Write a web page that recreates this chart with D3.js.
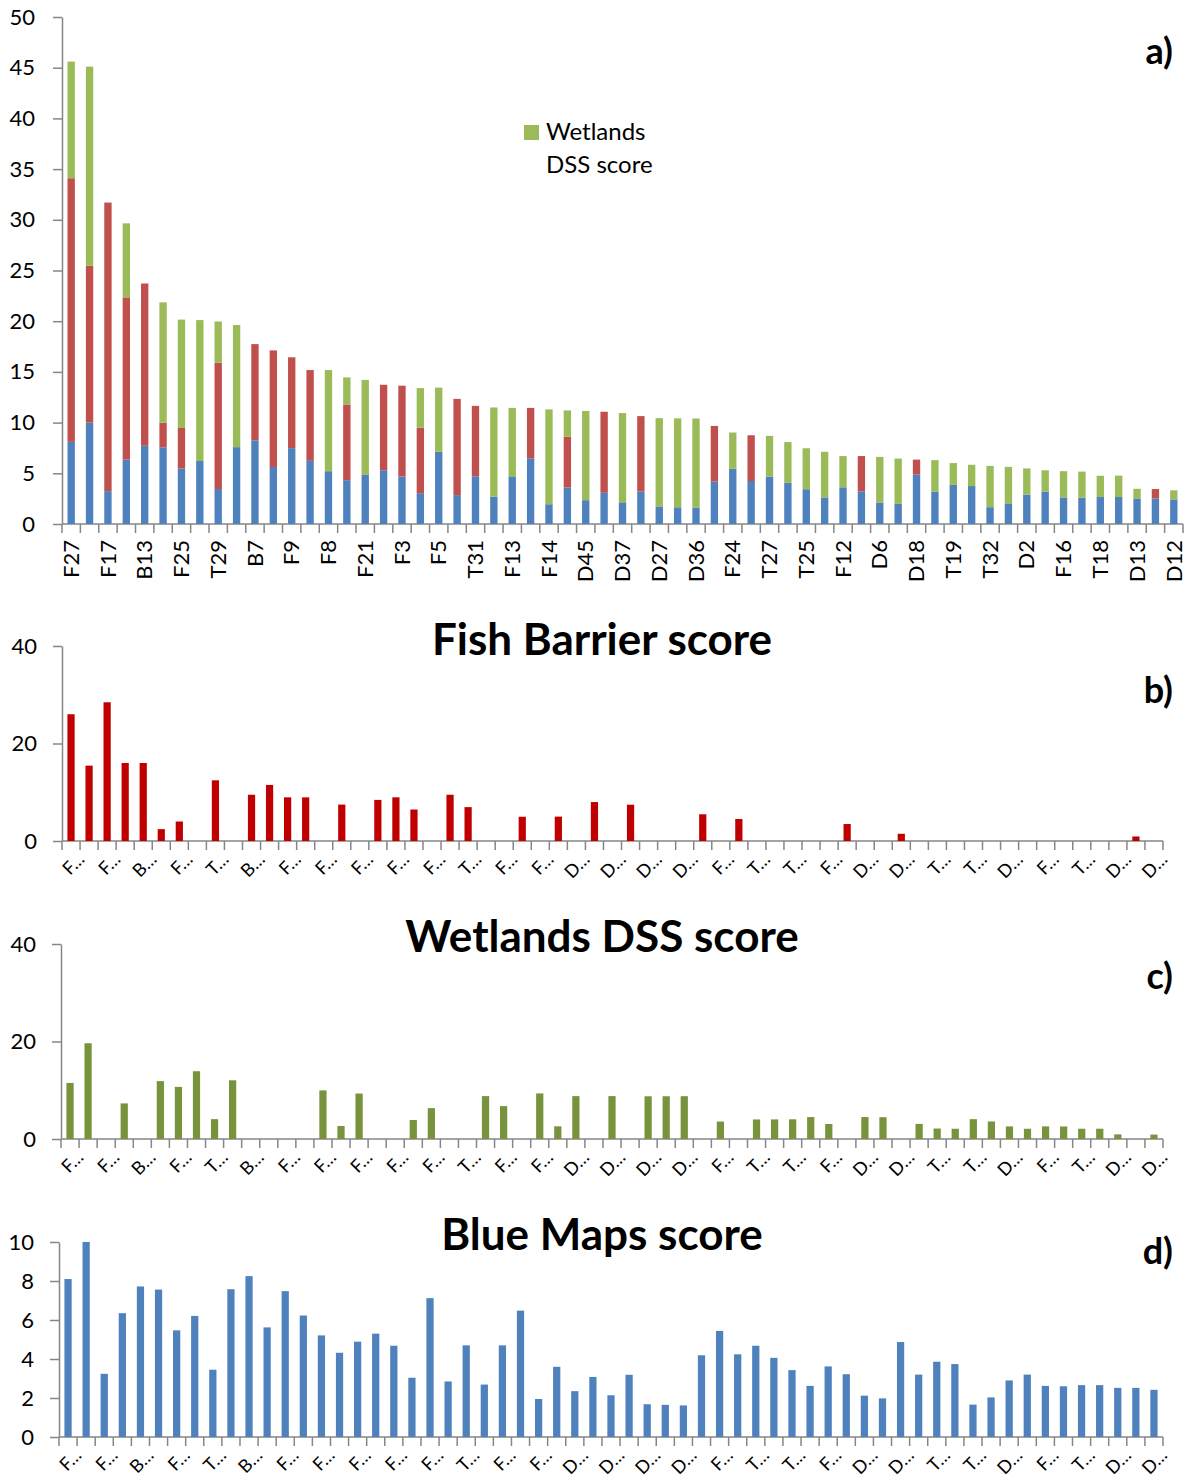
<!DOCTYPE html>
<html>
<head>
<meta charset="utf-8">
<script src="https://cdn.jsdelivr.net/npm/d3@7"></script>
<style>
  body { margin: 0; background: #fff; }
  text { font-family: Lato, "Open Sans", sans-serif; fill: #000; }
</style>
</head>
<body>
<svg id="chart" width="1192" height="1481"></svg>
<script>
// site codes; only every second one is printed in the source, the others stay null
const sites = ["F27",null,"F17",null,"B13",null,"F25",null,"T29",null,"B7",null,"F9",null,"F8",null,
  "F21",null,"F3",null,"F5",null,"T31",null,"F13",null,"F14",null,"D45",null,"D37",null,"D27",null,
  "D36",null,"F24",null,"T27",null,"T25",null,"F12",null,"D6",null,"D18",null,"T19",null,"T32",null,
  "D2",null,"F16",null,"T18",null,"D13",null,"D12"];

const blueMaps = [8.1,10.0,3.24,6.35,7.72,7.56,5.47,6.21,3.45,7.58,8.25,5.62,7.48,6.23,5.21,4.32,
  4.89,5.3,4.68,3.04,7.12,2.85,4.7,2.69,4.7,6.48,1.95,3.6,2.35,3.08,2.14,3.19,1.68,1.65,1.62,4.19,
  5.44,4.24,4.68,4.06,3.43,2.62,3.62,3.22,2.12,1.98,4.87,3.2,3.86,3.74,1.66,2.03,2.9,3.2,2.62,2.6,
  2.66,2.66,2.52,2.52,2.42];

const fishBarrier = [26.0,15.46,28.46,16.0,16.0,2.43,4.0,0,12.45,0,9.49,11.5,8.96,8.95,0,7.47,
  0,8.43,8.96,6.46,0,9.49,6.95,0,0,4.97,0,5.0,0,7.99,0,7.45,0,0,0,5.48,
  0,4.51,0,0,0,0,0,3.48,0,0,1.48,0,0,0,0,0,0,0,0,0,
  0,0,0,0.93,0];

const wetlands = [11.5,19.64,0,7.3,0,11.87,10.69,13.9,4.07,12.04,0,0,0,0,9.97,2.67,
  9.32,0,0,3.9,6.33,0,0,8.8,6.75,0,9.35,2.6,8.8,0,8.8,0,8.76,8.77,8.78,0,
  3.58,0,4.01,4.02,4.04,4.5,3.08,0,4.5,4.47,0,3.1,2.15,2.1,4.07,3.6,2.58,2.1,2.59,2.57,
  2.1,2.11,0.95,0,0.9];

const yTicksA = d3.range(0, 51, 5);
const yTicksB = [0, 20, 40];
const yTicksC = [0, 20, 40];
const yTicksD = [0, 2, 4, 6, 8, 10];

const svg = d3.select("#chart");
const n = sites.length;
const grey = "#868686";

function frame(cfg) {
  const x = d3.scaleBand().domain(d3.range(n))
    .range([cfg.left, cfg.right]).paddingInner(0.6).paddingOuter(0.3);
  const y = d3.scaleLinear().domain([0, cfg.max]).range([cfg.bottom, cfg.top]);
  const g = svg.append("g");

  const yAxis = g.append("g")
    .attr("transform", `translate(${cfg.left},0)`)
    .call(d3.axisLeft(y).tickValues(cfg.ticks).tickSize(9).tickSizeOuter(0).tickPadding(cfg.pad));
  yAxis.select(".domain").attr("stroke", grey).attr("stroke-width", 1.5);
  yAxis.selectAll(".tick line").attr("stroke", grey).attr("stroke-width", 1.5);
  yAxis.selectAll(".tick text").style("font-size", "22px").attr("fill", "#000")
    .attr("font-family", null);

  // category axis: baseline plus a tick at every category boundary
  const step = x.step();
  g.append("line")
    .attr("x1", cfg.left).attr("x2", cfg.right)
    .attr("y1", y(0)).attr("y2", y(0))
    .attr("stroke", grey).attr("stroke-width", 1.5);
  g.selectAll(".xtick").data(d3.range(n + 1)).join("line")
    .attr("x1", i => cfg.left + i * step).attr("x2", i => cfg.left + i * step)
    .attr("y1", y(0)).attr("y2", y(0) + 9)
    .attr("stroke", grey).attr("stroke-width", 1.5);
  return { g, x, y };
}

// ---- a) stacked totals ----
{
  const { g, x, y } = frame({ left: 62, right: 1183, top: 17, bottom: 524, max: 50, ticks: yTicksA, pad: 18 });
  const rows = d3.range(n).map(i => ({ i, blue: blueMaps[i], red: fishBarrier[i], green: wetlands[i] }));
  const stack = d3.stack().keys(["blue", "red", "green"])(rows);
  const colours = { blue: "#4F81BD", red: "#C0504D", green: "#9BBB59" };
  g.selectAll(".layer").data(stack).join("g")
    .attr("fill", s => colours[s.key])
    .selectAll("rect").data(s => s.filter(d => d[1] > d[0])).join("rect")
    .attr("x", d => x(d.data.i))
    .attr("width", x.bandwidth())
    .attr("y", d => y(d[1]))
    .attr("height", d => y(d[0]) - y(d[1]));

  g.selectAll(".xl").data(d3.range(n).filter(i => sites[i])).join("text")
    .attr("text-anchor", "end")
    .attr("dy", "0.35em")
    .style("font-size", "22px")
    .attr("transform", i => `translate(${x(i) + x.bandwidth() / 2},${y(0) + 16}) rotate(-90)`)
    .text(i => sites[i]);

  g.append("rect").attr("x", 524).attr("y", 125).attr("width", 15).attr("height", 15).attr("fill", colours.green);
  g.append("text").attr("x", 546).attr("y", 140).style("font-size", "24px").text("Wetlands");
  g.append("text").attr("x", 546).attr("y", 173).style("font-size", "24px").text("DSS score");

  g.append("text").attr("x", 1173).attr("y", 64).attr("text-anchor", "end")
    .style("font-size", "36px").style("font-weight", "bold").text("a)");
}

// ---- b), c), d) single scores ----
function single(cfg, values, colour, title, letter) {
  const { g, x, y } = frame(cfg);
  g.selectAll(".bar").data(d3.range(n).filter(i => values[i] > 0)).join("rect")
    .attr("fill", colour)
    .attr("x", i => x(i))
    .attr("width", x.bandwidth())
    .attr("y", i => y(values[i]))
    .attr("height", i => y(0) - y(values[i]));

  g.selectAll(".xl").data(d3.range(n).filter(i => sites[i])).join("text")
    .attr("text-anchor", "end")
    .attr("dy", "0.35em")
    .style("font-size", "18px")
    .attr("transform", i => `translate(${x(i) + x.bandwidth() / 2 + 10},${y(0) + 15}) rotate(-45)`)
    .text(i => sites[i][0] + "\u2026");

  g.append("text").attr("x", 602).attr("y", cfg.titleY).attr("text-anchor", "middle")
    .style("font-size", "44px").style("font-weight", "bold").text(title);
  g.append("text").attr("x", 1173).attr("y", cfg.letterY).attr("text-anchor", "end")
    .style("font-size", "36px").style("font-weight", "bold").text(letter);
}

single({ left: 62, right: 1163, top: 646, bottom: 841, max: 40, ticks: yTicksB, pad: 16, titleY: 655, letterY: 703 },
  fishBarrier, "#C00000", "Fish Barrier score", "b)");
single({ left: 61, right: 1163, top: 944, bottom: 1139, max: 40, ticks: yTicksC, pad: 16, titleY: 952, letterY: 989 },
  wetlands, "#77933C", "Wetlands DSS score", "c)");
single({ left: 59, right: 1163, top: 1242, bottom: 1437, max: 10, ticks: yTicksD, pad: 16, titleY: 1250, letterY: 1264 },
  blueMaps, "#4F81BD", "Blue Maps score", "d)");
</script>
</body>
</html>
